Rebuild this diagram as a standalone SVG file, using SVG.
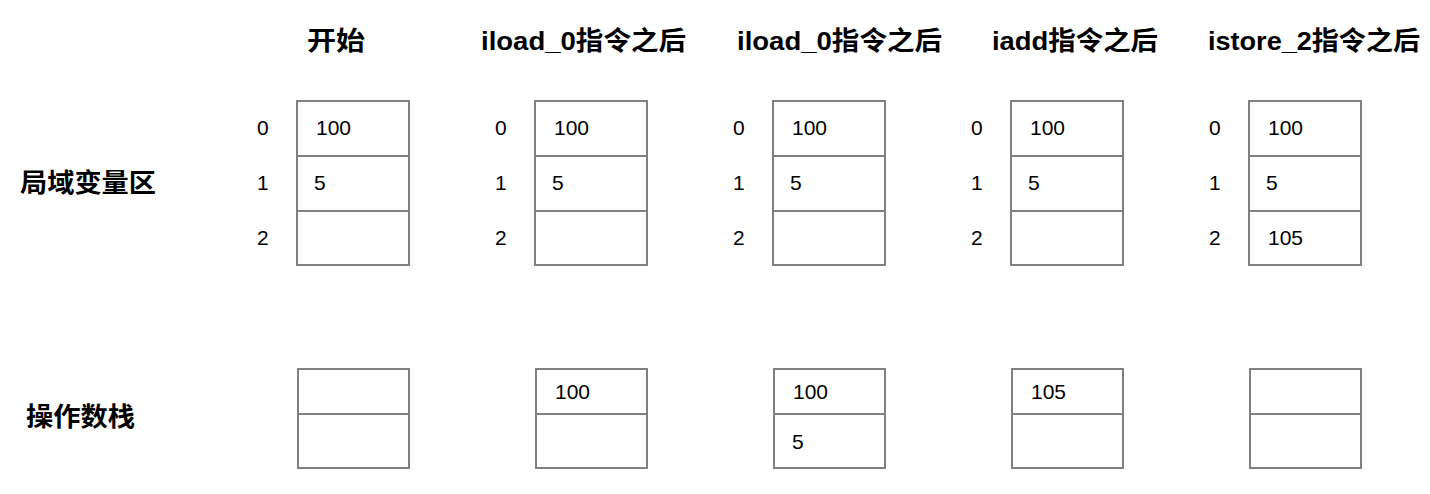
<svg xmlns="http://www.w3.org/2000/svg" width="1430" height="494" viewBox="0 0 1430 494">
<style>
.hd{font-family:"Liberation Sans","Noto Sans CJK SC",sans-serif;font-weight:bold;font-size:26px;fill:#000}
.lb{font-family:"Noto Sans CJK SC",sans-serif;font-weight:bold;font-size:26px;fill:#000}
.n{font-family:"Liberation Sans",sans-serif;font-size:21px;fill:#000}
.c{fill:#fff;stroke:#808080;stroke-width:2}
</style>
<rect width="1430" height="494" fill="#fff"/>
<g id="headers">
<text class="hd" x="307" y="50" textLength="58" lengthAdjust="spacingAndGlyphs">开始</text>
<text class="hd" x="481" y="50" textLength="205" lengthAdjust="spacingAndGlyphs">iload_0指令之后</text>
<text class="hd" x="737" y="50" textLength="205" lengthAdjust="spacingAndGlyphs">iload_0指令之后</text>
<text class="hd" x="992" y="50" textLength="166" lengthAdjust="spacingAndGlyphs">iadd指令之后</text>
<text class="hd" x="1208" y="50" textLength="212" lengthAdjust="spacingAndGlyphs">istore_2指令之后</text>
</g>
<g id="row-labels">
<text class="lb" x="20" y="192" textLength="136" lengthAdjust="spacingAndGlyphs">局域变量区</text>
<text class="lb" x="26" y="426" textLength="109" lengthAdjust="spacingAndGlyphs">操作数栈</text>
</g>
<g id="local-vars-1">
<rect class="c" x="297" y="101" width="112" height="164"/>
<line class="c" x1="297" y1="156" x2="409" y2="156"/><line class="c" x1="297" y1="211" x2="409" y2="211"/>
<text class="n" x="257" y="135">0</text><text class="n" x="257" y="190">1</text><text class="n" x="257" y="245">2</text>
<text class="n" x="316" y="135">100</text><text class="n" x="314" y="190">5</text>
</g>
<g id="local-vars-2">
<rect class="c" x="535" y="101" width="112" height="164"/>
<line class="c" x1="535" y1="156" x2="647" y2="156"/><line class="c" x1="535" y1="211" x2="647" y2="211"/>
<text class="n" x="495" y="135">0</text><text class="n" x="495" y="190">1</text><text class="n" x="495" y="245">2</text>
<text class="n" x="554" y="135">100</text><text class="n" x="552" y="190">5</text>
</g>
<g id="local-vars-3">
<rect class="c" x="773" y="101" width="112" height="164"/>
<line class="c" x1="773" y1="156" x2="885" y2="156"/><line class="c" x1="773" y1="211" x2="885" y2="211"/>
<text class="n" x="733" y="135">0</text><text class="n" x="733" y="190">1</text><text class="n" x="733" y="245">2</text>
<text class="n" x="792" y="135">100</text><text class="n" x="790" y="190">5</text>
</g>
<g id="local-vars-4">
<rect class="c" x="1011" y="101" width="112" height="164"/>
<line class="c" x1="1011" y1="156" x2="1123" y2="156"/><line class="c" x1="1011" y1="211" x2="1123" y2="211"/>
<text class="n" x="971" y="135">0</text><text class="n" x="971" y="190">1</text><text class="n" x="971" y="245">2</text>
<text class="n" x="1030" y="135">100</text><text class="n" x="1028" y="190">5</text>
</g>
<g id="local-vars-5">
<rect class="c" x="1249" y="101" width="112" height="164"/>
<line class="c" x1="1249" y1="156" x2="1361" y2="156"/><line class="c" x1="1249" y1="211" x2="1361" y2="211"/>
<text class="n" x="1209" y="135">0</text><text class="n" x="1209" y="190">1</text><text class="n" x="1209" y="245">2</text>
<text class="n" x="1268" y="135">100</text><text class="n" x="1266" y="190">5</text><text class="n" x="1268" y="245">105</text>
</g>
<g id="stack-1">
<rect class="c" x="298" y="369" width="111" height="99"/>
<line class="c" x1="298" y1="414" x2="409" y2="414"/>
</g>
<g id="stack-2">
<rect class="c" x="536" y="369" width="111" height="99"/>
<line class="c" x1="536" y1="414" x2="647" y2="414"/>
<text class="n" x="555" y="399">100</text>
</g>
<g id="stack-3">
<rect class="c" x="774" y="369" width="111" height="99"/>
<line class="c" x1="774" y1="414" x2="885" y2="414"/>
<text class="n" x="793" y="399">100</text><text class="n" x="792" y="449">5</text>
</g>
<g id="stack-4">
<rect class="c" x="1012" y="369" width="111" height="99"/>
<line class="c" x1="1012" y1="414" x2="1123" y2="414"/>
<text class="n" x="1031" y="399">105</text>
</g>
<g id="stack-5">
<rect class="c" x="1250" y="369" width="111" height="99"/>
<line class="c" x1="1250" y1="414" x2="1361" y2="414"/>
</g>
<g id="connectors"/>
</svg>
